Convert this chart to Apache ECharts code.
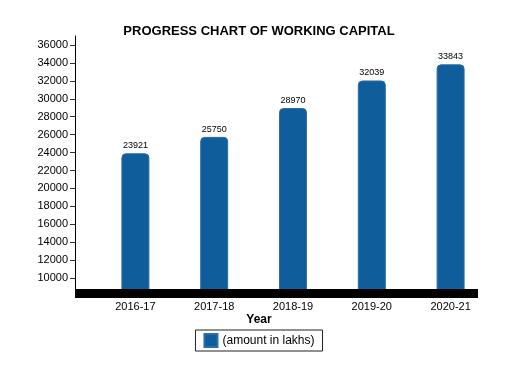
<!DOCTYPE html>
<html>
<head>
<meta charset="utf-8">
<script src="https://cdn.jsdelivr.net/npm/echarts@6/dist/echarts.min.js"></script>
<style>html,body{margin:0;padding:0;background:#fff}#c{width:518px;height:375px}</style>
</head>
<body>
<div id="c"></div>
<script>
var categories = ['2016-17', '2017-18', '2018-19', '2019-20', '2020-21'];
var amounts = [23921, 25750, 28970, 32039, 33843];
var yTicks = [10000, 12000, 14000, 16000, 18000, 20000, 22000, 24000, 26000, 28000, 30000, 32000, 34000, 36000];
var seriesName = '(amount in lakhs)';
var titleText = 'PROGRESS CHART OF WORKING CAPITAL';
var xAxisTitle = 'Year';
var yMin = 8000, yMax = 37000, yStep = 2000;

var font = '"Liberation Sans", Arial, Helvetica, sans-serif';
var chart = echarts.init(document.getElementById('c'), null, {renderer: 'canvas'});
chart.setOption({
  backgroundColor: '#fff',
  animation: false,
  textStyle: {fontFamily: font},
  title: [
    {text: titleText, left: 'center', top: 20,
     textStyle: {fontFamily: font, fontSize: 13, fontWeight: 'bold', color: '#000'}},
    {text: xAxisTitle, left: 'center', top: 314, padding: 0,
     textStyle: {fontFamily: font, fontSize: 12, fontWeight: 'bold', color: '#000'}}
  ],
  legend: {
    data: [seriesName], left: 'center', top: 330,
    borderColor: '#222', borderWidth: 1, padding: [3, 8, 3, 8],
    icon: 'rect', itemWidth: 13, itemHeight: 13, itemGap: 5,
    textStyle: {fontFamily: font, fontSize: 12, color: '#000'}
  },
  grid: [
    {left: 75, right: 40, top: 36, bottom: 79},
    {left: 96, right: 28, top: 36, bottom: 79}
  ],
  xAxis: [
    {type: 'value', gridIndex: 0, min: 0, max: 1, offset: -3, z: 5,
     axisLine: {show: true, onZero: false, lineStyle: {color: '#000', width: 9, cap: 'butt'}},
     axisTick: {show: false}, axisLabel: {show: false}, splitLine: {show: false}},
    {type: 'category', gridIndex: 1, data: categories,
     axisLine: {show: false}, axisTick: {show: false},
     axisLabel: {margin: 5, fontFamily: font, fontSize: 11, color: '#000'},
     splitLine: {show: false}}
  ],
  yAxis: [
    {type: 'value', gridIndex: 0, min: yMin, max: yMax, interval: yStep,
     axisLine: {show: true, lineStyle: {color: '#000', width: 1}},
     axisTick: {show: true, length: 5, customValues: yTicks, lineStyle: {color: '#333'}},
     axisLabel: {margin: 7, fontFamily: font, fontSize: 11, color: '#000', customValues: yTicks,
       formatter: function (v) { return (v === yMin || v === yMax) ? '' : String(v); }},
     splitLine: {show: false}},
    {type: 'value', gridIndex: 1, min: yMin, max: yMax, interval: yStep, show: false,
     splitLine: {show: false}}
  ],
  series: [
    {name: seriesName, type: 'bar', xAxisIndex: 1, yAxisIndex: 1, data: amounts,
     barWidth: 28, z: 2,
     itemStyle: {color: '#105d9c', borderRadius: [4, 4, 0, 0],
       borderColor: '#2b6fa6', borderWidth: 1},
     label: {show: true, position: 'top', distance: 3,
       fontFamily: font, fontSize: 9, color: '#000'}}
  ]
});
</script>
</body>
</html>
